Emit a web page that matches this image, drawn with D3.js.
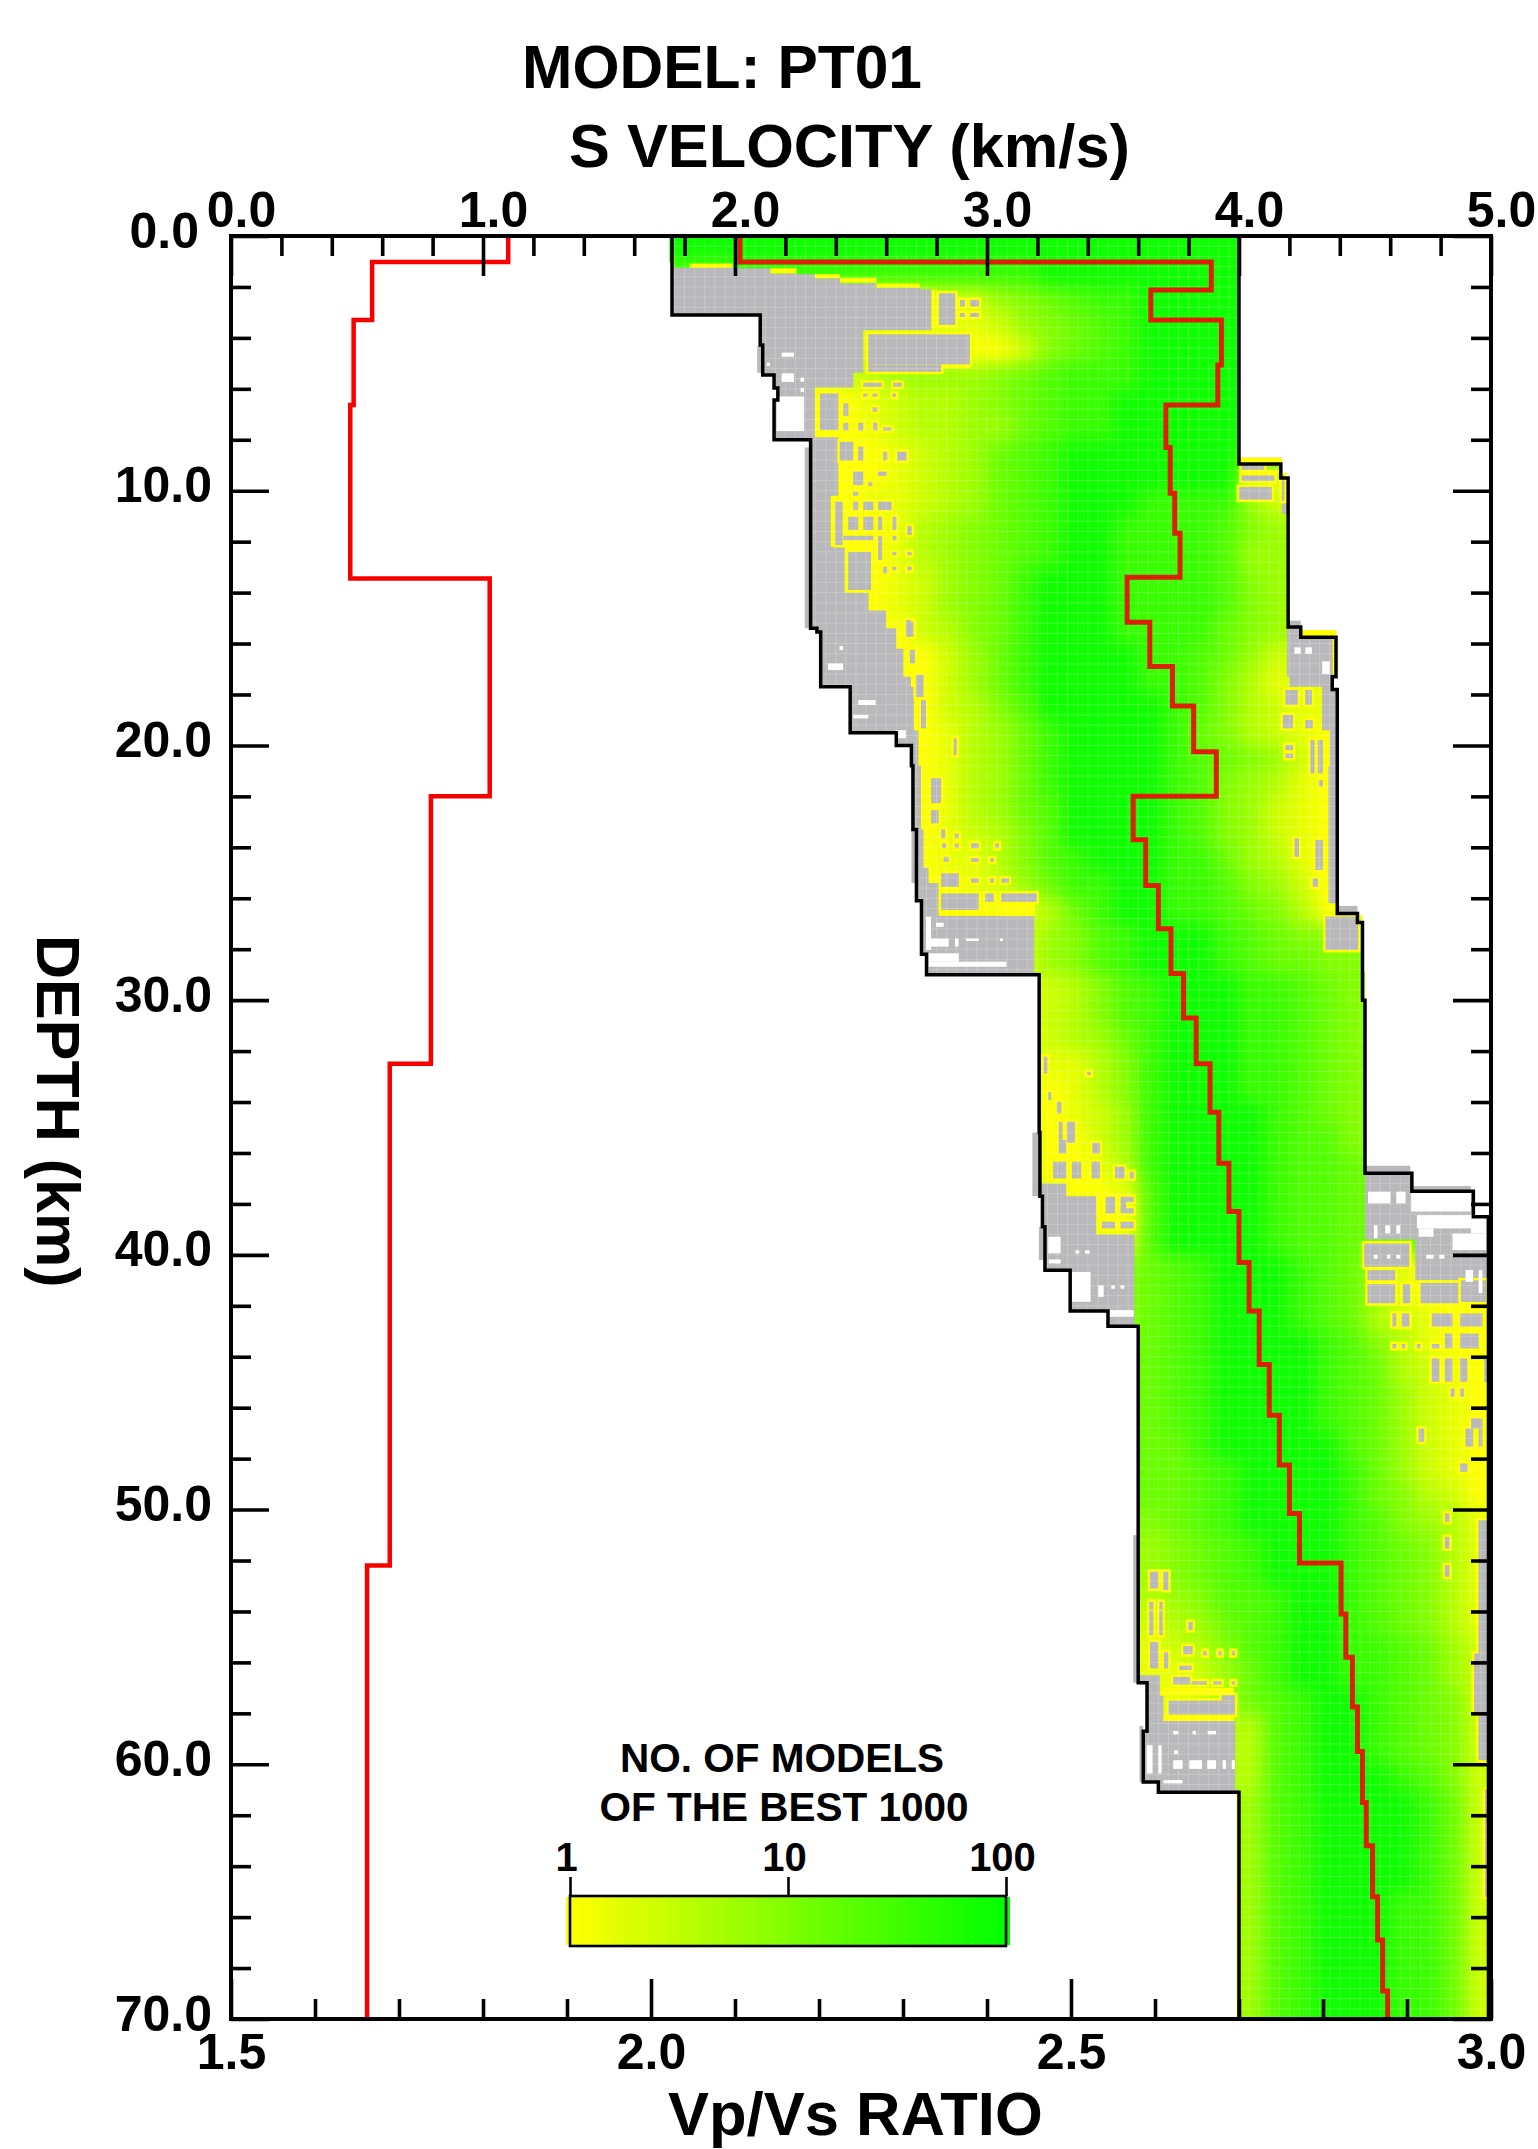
<!DOCTYPE html>
<html>
<head>
<meta charset="utf-8">
<title>MODEL: PT01</title>
<script src="https://cdn.jsdelivr.net/npm/d3@7"></script>
<style>
  body { margin: 0; background: #fff; }
  svg { display: block; }
  text { font-family: "Liberation Sans", Arial, sans-serif; font-weight: bold; fill: #000; }
</style>
</head>
<body>
<svg id="chart" width="1538" height="2149"></svg>
<script>
// Tick values of the three axes
const vsMajor = [0, 1, 2, 3, 4, 5];
const vsMinor = d3.range(0, 26).map(i => i / 5).filter(v => !vsMajor.includes(v));
const ratioMajor = [1.5, 2.0, 2.5, 3.0];
const ratioMinor = d3.range(15, 31).map(i => i / 10).filter(v => !ratioMajor.includes(v));
const depthMajor = [0, 10, 20, 30, 40, 50, 60, 70];
const depthMinor = d3.range(0, 36).map(i => i * 2).filter(v => !depthMajor.includes(v));
const legendTicks = [1, 10, 100];

// Best model: S velocity, one value per layer between the depth breaks
const redVsDepth = [0, 1.02, 2.12, 3.3, 5.06, 6.63, 8.3, 10.1, 11.67, 13.4, 15.16, 16.9, 18.45, 20.25, 22, 23.7, 25.5, 27.2, 28.95, 30.7, 32.5, 34.4, 36.4, 38.3, 40.3, 42.2, 44.3, 46.3, 48.25, 50.15, 52.1, 54.1, 55.8, 57.75, 59.5, 61.5, 63.2, 65.2, 66.9, 68.9, 70];
const redVs = [2.02, 3.89, 3.65, 3.93, 3.916, 3.71, 3.727, 3.745, 3.766, 3.556, 3.646, 3.736, 3.82, 3.91, 3.58, 3.63, 3.68, 3.73, 3.78, 3.83, 3.885, 3.92, 3.96, 4.0, 4.04, 4.08, 4.12, 4.16, 4.2, 4.24, 4.405, 4.424, 4.45, 4.47, 4.49, 4.505, 4.53, 4.55, 4.57, 4.59];

// Best model: Vp/Vs ratio
const redRatioDepth = [0, 1.02, 3.3, 6.63, 13.45, 22, 32.5, 52.2, 70];
const redRatio = [1.83, 1.668, 1.646, 1.642, 1.808, 1.738, 1.689, 1.662];

// Search bounds (black lines)
const minVsDepth = [0, 3.1, 4.28, 5.46, 5.97, 6.44, 8, 15.4, 15.55, 17.7, 19.5, 20, 20.8, 23.3, 26.1, 28.2, 29, 35.2, 37.7, 38.9, 40.6, 42.2, 42.8, 56.8, 58.7, 60.7, 61.1, 70];
const minVs = [1.75, 2.10, 2.11, 2.155, 2.17, 2.155, 2.30, 2.325, 2.34, 2.457, 2.64, 2.70, 2.706, 2.72, 2.74, 2.76, 3.207, 3.21, 3.22, 3.23, 3.33, 3.48, 3.60, 3.635, 3.62, 3.68, 4.0];
const maxVsDepth = [0, 8.95, 9.5, 15.35, 15.75, 17.3, 17.8, 26.6, 26.95, 30, 36.8, 37.5, 38.5, 70];
const maxVs = [4.0, 4.166, 4.195, 4.245, 4.385, 4.37, 4.39, 4.47, 4.49, 4.5, 4.686, 4.93, 4.99];

// Number of models per 1 km / 0.1 km/s cell, level 0 (1 model) to 9 (100 models)
// Groups of columns: 1.7-2.6, 2.7-3.6, 3.7-4.6, 4.7-4.9 km/s
const heatRows = [
  "9999999999 9999999999 9999999999 999",
  "7778888888 8888899999 9999999999 999",
  "1111111111 1224567889 9999999999 999",
  "1111111111 1112456789 9999999999 999",
  "1111111111 1100256789 9999999999 999",
  "1111111234 4445678889 9999999999 999",
  "1111110012 3345678899 9999999999 999",
  "1111110012 3344678899 9999999999 999",
  "1111110001 2346789999 9998888888 888",
  "1111110001 2346789999 9993111111 111",
  "1111110011 2346789998 8884222222 222",
  "1111110001 3456789988 8875444444 444",
  "1111110001 3456789988 8874444444 444",
  "1111110001 2456899988 8875444444 444",
  "1111111001 2456899988 8875444444 444",
  "1111111100 2356899988 8865444444 444",
  "1111111110 0246899998 8764222222 222",
  "1111111110 0246899998 8753111111 111",
  "1111111110 0235799999 8753211111 111",
  "1111111110 0134689999 8653210000 000",
  "1111111110 0134689999 8765420000 000",
  "1111111110 0134689999 8754310000 000",
  "1111111110 0134679999 8754210000 000",
  "1111111110 0123579999 8754210000 000",
  "1111111110 0113578999 8864310000 000",
  "1111111110 0012468899 8875420000 000",
  "1111111110 0000136899 8876530000 000",
  "1111111111 1111245789 9987655555 555",
  "1111111111 1111245789 9987665555 555",
  "1111111111 1111123578 9998876555 555",
  "1111111111 1111123578 9998876555 555",
  "1111111111 1111123468 9998876555 555",
  "1111111111 1111111358 9998876555 555",
  "1111111111 1111101358 9998876555 555",
  "1111111111 1111101248 9999876555 555",
  "1111111111 1111100248 9999877555 555",
  "1111111111 1111100138 9999877666 666",
  "1111111111 1111110017 9999877666 666",
  "1111111111 1111111007 9999877666 666",
  "1111111111 1111111117 9999877666 666",
  "1111111111 1111111156 7899987641 000",
  "1111111111 1111111156 7899987641 000",
  "1111111111 1111111156 7899987632 100",
  "1111111111 1111111666 7899998753 100",
  "1111111111 1111111666 7899998763 210",
  "1111111111 1111111666 7899998764 210",
  "1111111111 1111111666 7899998764 210",
  "1111111111 1111111666 6899999764 210",
  "1111111111 1111111666 6789999864 210",
  "1111111111 1111111666 6789999865 320",
  "1111111111 1111111555 6789999875 431",
  "1111111111 1111111444 5678999876 531",
  "1111111111 1111111444 5678999876 531",
  "1111111111 1111111333 4577899876 531",
  "1111111111 1111111222 3467899876 531",
  "1111111111 1111111111 2357899887 642",
  "1111111111 1111111111 1246899887 642",
  "1111111111 1111111111 1246789987 652",
  "1111111111 1111111111 1133789987 652",
  "1111111111 1111111111 1133789987 652",
  "1111111111 1111111111 1133789998 752",
  "1111111111 1111111111 1134789999 862",
  "1111111111 1111111111 1134789999 862",
  "1111111111 1111111111 1134789999 862",
  "1111111111 1111111111 1134789999 862",
  "1111111111 1111111111 1134789998 862",
  "1111111111 1111111111 1134789998 862",
  "1111111111 1111111111 1134789998 862",
  "1111111111 1111111111 1134789998 862",
  "1111111111 1111111111 1134789998 862"
];

// Parts of the grid that hold at least one model: [depth top, depth bottom, vs left, vs right]
const colourBands = [
  [0, 1.05, 1.74, 4], [1.05, 1.25, 1.755, 4], [1.25, 1.27, 1.99, 4], [1.27, 1.47, 2.14, 4],
  [1.47, 1.5, 2.245, 4], [1.5, 1.66, 2.32, 4], [1.66, 1.86, 2.42, 4], [1.86, 2.03, 2.56, 4],
  [2.03, 2.09, 2.734, 4], [2.09, 3.7, 2.78, 4], [3.7, 5.37, 2.509, 4], [5.37, 5.95, 2.47, 4],
  [5.95, 7.9, 2.317, 4], [7.9, 9.05, 2.41, 4], [9.05, 10.2, 2.41, 4.17], [10.2, 10.9, 2.38, 4.17],
  [10.9, 12.2, 2.38, 4.19], [12.2, 14, 2.435, 4.19], [14, 14.7, 2.53, 4.19], [14.7, 15.4, 2.6, 4.19],
  [15.4, 16.2, 2.64, 4.19], [16.2, 17.3, 2.668, 4.19], [17.3, 17.7, 2.698, 4.2], [17.7, 19.4, 2.71, 4.33],
  [19.4, 20.8, 2.728, 4.36], [20.8, 23.3, 2.738, 4.355], [23.3, 24.8, 2.748, 4.355], [24.8, 25.4, 2.768, 4.355],
  [25.4, 26.2, 2.808, 4.355], [26.2, 26.7, 2.808, 4.39], [26.7, 28.9, 3.187, 4.49], [28.9, 37.2, 3.207, 4.5],
  [37.2, 37.7, 3.314, 4.5], [37.7, 39.2, 3.433, 4.5], [39.2, 39.4, 3.585, 4.5], [39.4, 41, 3.585, 4.7],
  [41, 42.85, 3.585, 5], [42.85, 56.5, 3.6, 5], [56.5, 57.3, 3.686, 5], [57.3, 58.3, 3.7, 5],
  [58.3, 61, 3.985, 5], [61, 70, 4.0, 5]
];

// Cells with exactly one model, drawn pure yellow
const yellowBits = [
  [8.7, 9.0, 4.0, 4.17], [9.19, 9.32, 4.0, 4.16], [15.47, 15.73, 4.247, 4.387], [15.73, 17.2, 4.372, 4.39],
  [61.1, 70, 3.99, 4.0], [1.08, 1.25, 1.82, 1.99], [1.27, 1.47, 2.14, 2.245], [1.5, 1.66, 2.317, 2.417],
  [1.64, 1.83, 2.417, 2.562], [1.87, 2.03, 2.562, 2.734], [2.09, 3.6, 2.78, 2.795], [5.04, 5.2, 2.813, 2.932],
  [26.2, 26.7, 3.05, 3.19], [57.0, 57.3, 3.69, 3.98], [58.05, 58.3, 3.7, 3.98], [26.9, 28.1, 4.473, 4.49]
];

// Cells with no model, inside the yellow cells
const greyPatches = [
  [2.25, 3.49, 2.809, 2.874], [2.51, 2.77, 2.893, 2.912], [2.51, 2.77, 2.934, 2.968], [3.02, 3.18, 2.893, 2.912],
  [3.02, 3.18, 2.934, 2.968], [3.86, 5.04, 2.529, 2.932], [5.04, 5.33, 2.529, 2.818],
  [5.76, 5.92, 2.509, 2.582], [5.76, 5.92, 2.628, 2.661], [6.18, 6.31, 2.509, 2.526], [6.18, 6.31, 2.546, 2.565],
  [6.18, 6.31, 2.625, 2.639], [6.18, 7.62, 2.337, 2.41], [6.57, 7.07, 2.43, 2.45], [6.73, 6.9, 2.546, 2.565],
  [7.33, 7.64, 2.43, 2.45], [7.33, 7.64, 2.489, 2.509], [7.33, 7.64, 2.549, 2.565], [7.51, 7.64, 2.588, 2.621],
  [8.08, 8.82, 2.416, 2.469], [8.27, 8.82, 2.489, 2.509], [8.47, 8.82, 2.588, 2.604], [8.47, 8.82, 2.644, 2.681],
  [9.25, 9.78, 2.469, 2.509], [9.25, 9.42, 2.568, 2.602], [9.67, 9.82, 2.529, 2.545], [10.04, 10.2, 2.469, 2.489],
  [10.43, 10.76, 2.469, 2.489], [10.43, 10.76, 2.509, 2.549], [10.43, 10.76, 2.568, 2.621], [10.43, 12.13, 2.397, 2.427],
  [11.02, 11.54, 2.449, 2.489], [11.02, 11.54, 2.509, 2.549], [11.02, 11.54, 2.568, 2.584], [11.02, 11.54, 2.625, 2.641],
  [11.39, 11.74, 2.684, 2.701], [11.77, 11.94, 2.43, 2.549], [11.77, 12.72, 2.568, 2.584], [12.4, 13.9, 2.449, 2.54],
  [11.77, 11.94, 2.625, 2.641], [12.4, 12.53, 2.625, 2.641], [12.4, 12.53, 2.684, 2.701], [12.98, 13.25, 2.588, 2.604],
  [12.98, 13.12, 2.625, 2.641], [12.98, 13.12, 2.684, 2.701], [15.14, 15.73, 2.688, 2.708], [16.25, 16.78, 2.694, 2.714],
  [17.23, 18.1, 2.718, 2.748], [18.22, 19.33, 2.738, 2.758], [19.72, 20.38, 2.868, 2.88], [21.29, 22.27, 2.778, 2.818],
  [22.54, 23.06, 2.778, 2.808], [23.3, 23.65, 2.818, 2.834], [23.45, 23.65, 2.873, 2.887], [23.84, 24.04, 2.822, 2.838],
  [23.84, 24.04, 2.873, 2.887], [23.84, 24.04, 2.937, 2.967], [23.84, 24.04, 3.033, 3.047], [24.37, 24.57, 2.828, 2.848],
  [24.43, 24.57, 2.937, 2.967], [24.43, 24.57, 3.013, 3.027], [25.02, 25.55, 2.818, 2.888], [25.22, 25.39, 2.937, 2.967],
  [25.22, 25.39, 3.013, 3.027], [25.22, 25.39, 3.057, 3.087], [25.81, 26.46, 2.818, 2.967], [25.81, 26.14, 2.993, 3.027],
  [25.81, 26.14, 3.057, 3.197], [32.22, 32.88, 3.225, 3.24], [33.6, 33.92, 3.243, 3.255], [33.99, 34.45, 3.277, 3.295],
  [32.81, 32.94, 3.396, 3.411], [34.77, 35.49, 3.285, 3.3], [34.77, 35.6, 3.317, 3.349], [35.49, 36.02, 3.285, 3.314],
  [35.6, 36.02, 3.418, 3.448], [36.34, 37, 3.262, 3.314], [36.34, 37, 3.337, 3.374], [36.34, 37, 3.415, 3.448],
  [36.54, 37, 3.508, 3.545], [36.74, 37, 3.567, 3.582], [37.72, 38.37, 3.471, 3.508], [37.72, 38.37, 3.53, 3.552],
  [37.72, 37.92, 3.552, 3.582], [38.17, 38.37, 3.552, 3.582], [38.7, 38.96, 3.456, 3.508], [38.7, 38.96, 3.53, 3.582],
  [39.55, 40.47, 4.497, 4.676], [40.6, 41, 4.51, 4.62], [41.15, 41.9, 4.51, 4.62], [41.15, 41.9, 4.65, 4.68],
  [41.1, 41.9, 4.72, 4.87], [41, 41.85, 4.88, 4.98], [42.3, 42.82, 4.765, 4.847], [42.3, 42.82, 4.877, 4.966],
  [42.3, 42.82, 4.609, 4.624], [42.3, 42.82, 4.646, 4.676], [43.5, 43.67, 4.765, 4.795], [43.09, 43.67, 4.817, 4.847],
  [43.09, 43.67, 4.877, 4.951], [43.5, 43.67, 4.609, 4.624], [43.5, 43.67, 4.646, 4.66], [43.5, 43.67, 4.706, 4.72],
  [44.07, 44.98, 4.765, 4.795], [44.07, 44.98, 4.817, 4.847], [44.07, 44.98, 4.877, 4.906], [44.1, 45, 4.973, 4.988],
  [45.25, 45.57, 4.84, 4.855], [45.25, 45.57, 4.877, 4.892], [46.42, 46.82, 4.921, 4.966], [46.82, 47.53, 4.899, 4.929],
  [46.82, 47.53, 4.951, 4.966], [46.82, 47.34, 4.713, 4.735], [48.19, 48.52, 4.877, 4.906], [50.15, 50.48, 4.817, 4.835],
  [51.07, 51.53, 4.817, 4.835], [52.18, 52.64, 4.817, 4.835], [50.42, 55.65, 4.95, 4.99], [55.65, 58, 4.933, 4.99],
  [58, 59.84, 4.95, 4.99], [61, 65.2, 4.976, 4.99], [52.44, 53.1, 3.647, 3.68], [52.44, 53.16, 3.7, 3.72],
  [53.62, 53.92, 3.644, 3.66], [53.62, 53.92, 3.684, 3.697], [53.96, 54.93, 3.644, 3.66], [53.96, 54.93, 3.684, 3.697],
  [54.41, 54.73, 3.799, 3.816], [55.19, 56.24, 3.647, 3.68], [55.59, 56.24, 3.702, 3.72], [55.36, 55.68, 3.779, 3.816],
  [55.55, 55.72, 3.858, 3.872], [55.55, 55.72, 3.918, 3.931], [55.55, 55.72, 3.971, 3.984], [56.13, 56.3, 3.763, 3.812],
  [56.57, 56.87, 3.739, 3.806], [56.74, 56.87, 3.812, 3.872], [56.74, 56.87, 3.898, 3.931], [56.74, 56.87, 3.971, 3.984],
  [57.29, 57.5, 3.931, 3.984], [57.5, 58.05, 3.72, 3.984], [9.4, 9.62, 4.01, 4.14], [9.85, 10.35, 4.0, 4.13],
  [9.0, 9.18, 4.01, 4.1], [9.4, 10.4, 4.17, 4.18], [17.82, 18.41, 4.184, 4.233], [17.82, 18.41, 4.263, 4.289],
  [18.8, 19.33, 4.174, 4.214], [19, 19.33, 4.263, 4.293], [19.98, 20.18, 4.184, 4.214], [20.32, 20.5, 4.184, 4.214],
  [19.79, 21.1, 4.283, 4.3], [19.79, 21.1, 4.313, 4.333], [21.36, 21.62, 4.317, 4.333], [23.65, 24.37, 4.22, 4.238],
  [23.71, 24.89, 4.303, 4.333], [25.22, 25.55, 4.293, 4.313], [26.72, 28.03, 4.343, 4.473],
  [15.08, 15.73, 2.678, 2.697]
];

// Grey rims just outside the black bounds
const greyRims = [
  [36.5, 36.8, 4.5, 4.68], [37.3, 37.52, 4.69, 4.92], [4.32, 5.37, 2.088, 2.112], [35.2, 37.7, 3.18, 3.21],
  [38.9, 40.2, 3.206, 3.225], [51, 56.8, 3.58, 3.6], [58.5, 60.7, 3.605, 3.62], [8.7, 9.0, 4.0, 4.17],
  [15.1, 15.35, 4.195, 4.245], [26.3, 26.6, 4.39, 4.47], [8.3, 15.4, 2.277, 2.3], [23.3, 25.4, 2.7, 2.72]
];

// Holes in the grey area: cells never sampled
const whiteHoles = [
  [4.58, 4.74, 2.185, 2.234], [4.97, 5.1, 2.126, 2.139], [5.39, 5.73, 2.185, 2.234], [5.56, 5.72, 2.26, 2.274],
  [5.97, 6.13, 2.26, 2.274], [6.3, 7.66, 2.165, 2.274], [16.78, 17.04, 2.369, 2.429], [16.1, 16.25, 2.415, 2.429],
  [18.22, 18.41, 2.489, 2.558], [18.8, 18.94, 2.469, 2.529], [19.4, 19.72, 2.638, 2.678], [26.96, 27.12, 2.798, 2.828],
  [27.58, 27.9, 2.758, 2.848], [26.72, 28.03, 2.758, 2.778], [27.58, 27.9, 2.873, 2.887], [27.58, 27.68, 2.917, 2.967],
  [27.58, 27.68, 3.051, 3.063], [28.49, 28.69, 2.768, 3.077], [28.16, 28.49, 2.768, 2.888], [16.15, 16.4, 4.263, 4.289],
  [16.15, 16.4, 4.22, 4.245], [16.7, 17.2, 4.33, 4.36], [37.52, 37.98, 4.512, 4.601], [37.52, 37.98, 4.624, 4.661],
  [37.52, 38.3, 4.683, 4.921], [38.44, 38.96, 4.706, 4.921], [38.96, 39.29, 4.713, 4.772], [39.16, 39.81, 4.847, 4.981],
  [38.4, 39.16, 4.921, 4.981], [38.84, 39.35, 4.535, 4.55], [38.84, 39.16, 4.58, 4.6], [38.84, 39.16, 4.624, 4.64],
  [40.0, 40.15, 4.535, 4.55], [40.0, 40.15, 4.587, 4.6], [40.0, 40.15, 4.624, 4.64], [40.0, 40.15, 4.743, 4.772],
  [40.0, 40.15, 4.795, 4.815], [40.6, 41.06, 4.899, 4.929], [40.6, 41.5, 4.951, 4.966], [39.29, 39.94, 3.243, 3.292],
  [40.18, 40.34, 3.245, 3.292], [39.82, 39.95, 3.351, 3.366], [39.82, 39.95, 3.389, 3.407], [40.67, 41.84, 3.337, 3.411],
  [41.2, 41.65, 3.441, 3.463], [41.2, 41.33, 3.493, 3.508], [41.2, 41.33, 3.53, 3.545], [42.17, 42.43, 3.486, 3.582],
  [58.69, 58.83, 3.739, 3.759], [58.69, 58.83, 3.816, 3.829], [58.69, 58.83, 3.876, 3.909], [59.45, 59.6, 3.742, 3.758],
  [59.84, 60.18, 3.739, 3.776], [59.84, 60.18, 3.803, 3.853], [59.84, 60.18, 3.874, 3.909], [59.84, 60.18, 3.935, 3.948],
  [59.84, 60.18, 3.971, 3.984], [59.25, 60.36, 3.634, 3.657], [59.25, 60.36, 3.68, 3.693], [60.62, 60.75, 3.7, 3.776]
];

// Scales
const x = d3.scaleLinear().domain([0, 5]).range([231, 1491]);
const xRatio = d3.scaleLinear().domain([1.5, 3]).range([231, 1491]);
const y = d3.scaleLinear().domain([0, 70]).range([236, 2019]);
const heatColour = d3.scaleLinear().domain([0, 8, 9]).range(["#ffff00", "#38ff00", "#0eff00"]);
const legendColour = d3.scaleLinear().domain([0, 2]).range(["#ffff00", "#00ff00"]);
const legendX = d3.scaleLog().domain([1, 100]).range([570, 1006]);

const svg = d3.select("#chart");
const defs = svg.append("defs");

/**
 * Turns layer values and their depth breaks into the points of a step line
 */
function stepPoints(depths, values) {
  const pts = [];
  values.forEach((v, i) => {
    pts.push([v, depths[i]]);
    pts.push([v, depths[i + 1]]);
  });
  return pts;
}

/**
 * Draws [depth top, depth bottom, vs left, vs right] boxes in one group
 */
function drawBoxes(parent, boxes, fill) {
  return parent.append("g").selectAll("rect")
    .data(boxes)
    .join("rect")
    .attr("x", d => x(d[2]))
    .attr("y", d => y(d[0]))
    .attr("width", d => x(d[3]) - x(d[2]))
    .attr("height", d => y(d[1]) - y(d[0]))
    .attr("fill", fill);
}

const leftLine = stepPoints(minVsDepth, minVs);
const rightLine = stepPoints(maxVsDepth, maxVs);
const toPixels = d3.line().x(d => x(d[0])).y(d => y(d[1]));
const ratioLine = d3.line().x(d => xRatio(d[0])).y(d => y(d[1]));
const envelope = leftLine.concat(rightLine.slice().reverse());

defs.append("clipPath").attr("id", "colourClip")
  .selectAll("rect").data(colourBands).join("rect")
  .attr("x", d => x(d[2]))
  .attr("y", d => y(d[0]))
  .attr("width", d => x(d[3]) - x(d[2]))
  .attr("height", d => y(d[1]) - y(d[0]));

defs.append("clipPath").attr("id", "envelopeClip")
  .append("path").attr("d", toPixels(envelope) + "Z");

defs.append("filter").attr("id", "soften")
  .attr("filterUnits", "userSpaceOnUse")
  .attr("x", 600).attr("y", 180).attr("width", 1000).attr("height", 1900)
  .attr("color-interpolation-filters", "sRGB")
  .append("feGaussianBlur").attr("stdDeviation", 9);

// Grey area of all sampled models
svg.append("path").attr("d", toPixels(envelope) + "Z").attr("fill", "#b9b9bc");
drawBoxes(svg, greyRims, "#b9b9bc");

// Number of models
const heatCells = [];
heatRows.forEach((row, r) => {
  row.replace(/ /g, "").split("").forEach((c, i) => {
    heatCells.push({ r, i, level: +c });
  });
});
svg.append("g").attr("clip-path", "url(#colourClip)")
  .append("g").attr("filter", "url(#soften)")
  .selectAll("rect").data(heatCells).join("rect")
  .attr("x", d => x(d.i === 0 ? 1.5 : 1.7 + d.i * 0.1))
  .attr("y", d => y(d.r === 0 ? -1 : d.r))
  .attr("width", d => x(d.i === 32 ? 5.2 : 1.8 + d.i * 0.1) - x(d.i === 0 ? 1.5 : 1.7 + d.i * 0.1) + 1)
  .attr("height", d => y(d.r === 69 ? 71 : d.r + 1) - y(d.r === 0 ? -1 : d.r) + 1)
  .attr("fill", d => heatColour(d.level));

drawBoxes(svg, yellowBits, "#ffff00");
// Yellow rims first, then the grey fills, so touching patches merge
drawBoxes(svg, greyPatches, "#ffff00").attr("stroke", "#ffff00").attr("stroke-width", 5);
drawBoxes(svg, greyPatches, "#b9b9bc");
drawBoxes(svg, whiteHoles, "#ffffff");

// Faint white lines left by the cell raster
const rasterLines = svg.append("g").attr("clip-path", "url(#envelopeClip)")
  .attr("stroke", "#fff").attr("stroke-opacity", 0.2).attr("stroke-width", 1);
rasterLines.selectAll("line.v").data(d3.range(0, 83).map(i => 1.72 + i * 0.04)).join("line")
  .attr("class", "v")
  .attr("x1", d => x(d)).attr("x2", d => x(d)).attr("y1", y(0)).attr("y2", y(70));
rasterLines.selectAll("line.h").data(d3.range(0, 175).map(i => i * 0.4)).join("line")
  .attr("class", "h")
  .attr("x1", x(1.7)).attr("x2", x(5)).attr("y1", d => y(d)).attr("y2", d => y(d));

// Black bounds
svg.append("path").attr("d", toPixels(leftLine)).attr("fill", "none").attr("stroke", "#000").attr("stroke-width", 3.5);
svg.append("path").attr("d", toPixels(rightLine)).attr("fill", "none").attr("stroke", "#000").attr("stroke-width", 3.5);

// Best model
svg.append("path").attr("d", ratioLine(stepPoints(redRatioDepth, redRatio)))
  .attr("fill", "none").attr("stroke", "#f80000").attr("stroke-width", 4.5).attr("stroke-linejoin", "miter");
svg.append("path").attr("d", toPixels(stepPoints(redVsDepth, redVs)))
  .attr("fill", "none").attr("stroke", "#dc2000").attr("stroke-width", 5).attr("stroke-linejoin", "miter");

/**
 * Applies the look of the plot axes to one d3 axis group
 */
function styleAxis(g, size) {
  g.select(".domain").remove();
  g.selectAll("line").attr("stroke", "#000").attr("stroke-width", 3.6);
  g.selectAll("text").style("font-size", size + "px").style("font-weight", "bold")
    .style("font-family", '"Liberation Sans", Arial, sans-serif').attr("fill", "#000");
  return g;
}

// Top axis, S velocity
svg.append("g").attr("transform", `translate(0,${y(0)})`)
  .call(d3.axisTop(x).tickValues(vsMinor).tickSize(-20).tickFormat(""))
  .call(styleAxis, 50);
svg.append("g").attr("transform", `translate(0,${y(0)})`)
  .call(d3.axisTop(x).tickValues(vsMajor).tickSize(-40).tickPadding(9).tickFormat(d3.format(".1f")))
  .call(styleAxis, 50)
  .selectAll("text").attr("dx", 10);

// Bottom axis, Vp/Vs ratio
svg.append("g").attr("transform", `translate(0,${y(70)})`)
  .call(d3.axisBottom(xRatio).tickValues(ratioMinor).tickSize(-20).tickFormat(""))
  .call(styleAxis, 50);
svg.append("g").attr("transform", `translate(0,${y(70)})`)
  .call(d3.axisBottom(xRatio).tickValues(ratioMajor).tickSize(-40).tickPadding(14).tickFormat(d3.format(".1f")))
  .call(styleAxis, 50);

// Left and right axes, depth
svg.append("g").attr("transform", `translate(${x(0)},0)`)
  .call(d3.axisLeft(y).tickValues(depthMinor).tickSize(-20).tickFormat(""))
  .call(styleAxis, 50);
svg.append("g").attr("transform", `translate(${x(0)},0)`)
  .call(d3.axisLeft(y).tickValues(depthMajor).tickSize(-38).tickPadding(19).tickFormat(d3.format(".1f")))
  .call(styleAxis, 50)
  .selectAll("text").attr("dy", "11px").attr("dx", d => d === 0 ? -13 : 0);
svg.append("g").attr("transform", `translate(${x(5)},0)`)
  .call(d3.axisRight(y).tickValues(depthMinor).tickSize(-20).tickFormat(""))
  .call(styleAxis, 50);
svg.append("g").attr("transform", `translate(${x(5)},0)`)
  .call(d3.axisRight(y).tickValues(depthMajor).tickSize(-38).tickFormat(""))
  .call(styleAxis, 50);

// Plot frame
svg.append("rect")
  .attr("x", x(0)).attr("y", y(0))
  .attr("width", x(5) - x(0)).attr("height", y(70) - y(0))
  .attr("fill", "none").attr("stroke", "#000").attr("stroke-width", 4);

// Titles
svg.append("text").attr("x", 522).attr("y", 88).style("font-size", "60.5px").text("MODEL: PT01");
svg.append("text").attr("x", 569).attr("y", 167).style("font-size", "61.3px").text("S VELOCITY (km/s)");
svg.append("text").attr("transform", "translate(37,935) rotate(90)").style("font-size", "61px").text("DEPTH (km)");
svg.append("text").attr("x", 668).attr("y", 2135).style("font-size", "61.5px").text("Vp/Vs RATIO");

// Colour legend
const legendSteps = d3.range(0, 40);
const legendLog = d3.scaleLinear().domain([0, 40]).range([0, 2]);
svg.append("g").selectAll("rect").data(legendSteps).join("rect")
  .attr("x", d => legendX(Math.pow(10, legendLog(d))) - (d === 0 ? 4 : 0))
  .attr("y", 1897)
  .attr("width", d => legendX(Math.pow(10, legendLog(d + 1))) - legendX(Math.pow(10, legendLog(d))) + (d === 0 ? 4 : 0) + (d === 39 ? 4 : 0.6))
  .attr("height", 48)
  .attr("fill", d => legendColour(legendLog(d + 0.5)));
svg.append("rect").attr("x", legendX(1)).attr("y", 1896)
  .attr("width", legendX(100) - legendX(1)).attr("height", 50)
  .attr("fill", "none").attr("stroke", "#000").attr("stroke-width", 2.6);
svg.append("g").attr("transform", "translate(0,1896)")
  .call(d3.axisTop(legendX).tickValues(legendTicks).tickSize(19).tickPadding(6).tickFormat(d3.format("d")))
  .call(styleAxis, 40)
  .call(g => g.selectAll("line").attr("stroke-width", 2.6))
  .selectAll("text").attr("dx", -4);
svg.append("text").attr("x", 782).attr("y", 1772).attr("text-anchor", "middle").style("font-size", "40.5px").text("NO. OF MODELS");
svg.append("text").attr("x", 784).attr("y", 1821).attr("text-anchor", "middle").style("font-size", "40.5px").text("OF THE BEST 1000");
</script>
</body>
</html>
